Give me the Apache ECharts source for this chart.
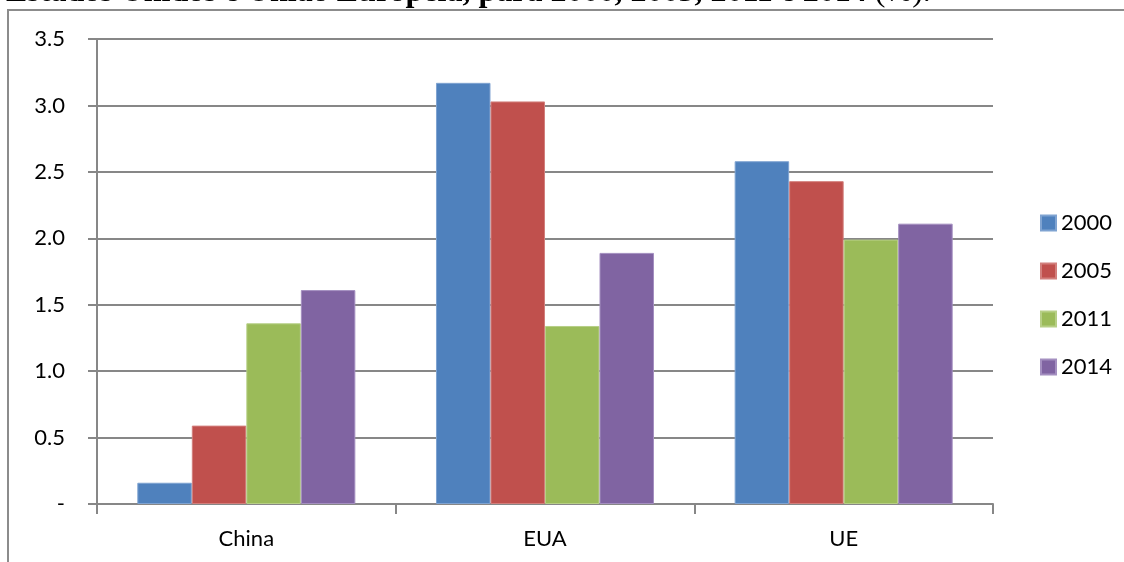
<!DOCTYPE html>
<html>
<head>
<meta charset="utf-8">
<script src="https://cdn.jsdelivr.net/npm/echarts@6/dist/echarts.min.js"></script>
<style>
  html, body { margin: 0; padding: 0; background: #fff; }
  #chart { width: 1124px; height: 562px; }
</style>
</head>
<body>
<div id="chart"></div>
<script>
// dados (%)
var categories = ['China', 'EUA', 'UE']
var years = ['2000', '2005', '2011', '2014']
var v2000 = [0.16, 3.17, 2.58]
var v2005 = [0.59, 3.03, 2.43]
var v2011 = [1.36, 1.34, 1.99]
var v2014 = [1.61, 1.89, 2.11]
var yTicks = { 0: '-' }

var colors = ['#4F81BD', '#C0504D', '#9BBB59', '#8064A2']
var borders = ['#7FA3D1', '#D27F7C', '#B7CF86', '#A48FC0']
var values = [v2000, v2005, v2011, v2014]

var font = 'Lato, "Open Sans", sans-serif'
var gray = '#878787'

var myChart = echarts.init(document.getElementById('chart'))

myChart.setOption({
    animation: false,
    backgroundColor: '#fff',
    textStyle: { fontFamily: font },
    graphic: [
        {
            type: 'text',
            left: 6,
            top: -23,
            style: {
                text: '{b|Estados Unidos e União Europeia, para 2000, 2005, 2011 e 2014 }{n|(%).}',
                rich: {
                    b: { fontFamily: '"Liberation Serif", serif', fontWeight: 'bold', fontSize: 32, fill: '#000' },
                    n: { fontFamily: '"Liberation Serif", serif', fontSize: 32, fill: '#000' }
                }
            }
        },
        {
            type: 'polyline',
            shape: { points: [[8, 562], [8, 10], [1124, 10]] },
            style: { stroke: '#8c8c8c', lineWidth: 2, fill: null }
        }
    ],
    legend: {
        orient: 'vertical',
        left: 1035,
        top: 207,
        itemWidth: 15,
        itemHeight: 15,
        itemGap: 26,
        icon: 'rect',
        data: years,
        textStyle: { fontSize: 22, lineHeight: 22, color: '#000', fontFamily: font }
    },
    grid: {
        left: 97,
        right: 131,
        top: 39,
        bottom: 58
    },
    xAxis: {
        type: 'category',
        data: categories,
        axisLine: { lineStyle: { color: gray, width: 2 } },
        axisTick: { show: true, length: 10, lineStyle: { color: gray, width: 2 } },
        axisLabel: { fontSize: 22, color: '#000', margin: 24, fontFamily: font }
    },
    yAxis: {
        type: 'value',
        min: 0,
        max: 3.5,
        interval: 0.5,
        axisLine: { show: true, lineStyle: { color: gray, width: 2 } },
        axisTick: { show: true, length: 9, lineStyle: { color: gray, width: 2 } },
        splitLine: { lineStyle: { color: gray, width: 2 } },
        axisLabel: {
            fontSize: 22,
            color: '#000',
            margin: 32,
            fontFamily: font,
            formatter: function (v) {
                return yTicks[v] !== undefined ? yTicks[v] : v.toFixed(1)
            }
        }
    },
    series: years.map(function (y, i) {
        return {
            name: y,
            type: 'bar',
            data: values[i],
            barGap: '0%',
            barCategoryGap: '27%',
            itemStyle: {
                color: colors[i],
                borderColor: borders[i],
                borderWidth: 1
            }
        }
    })
})
</script>
</body>
</html>
